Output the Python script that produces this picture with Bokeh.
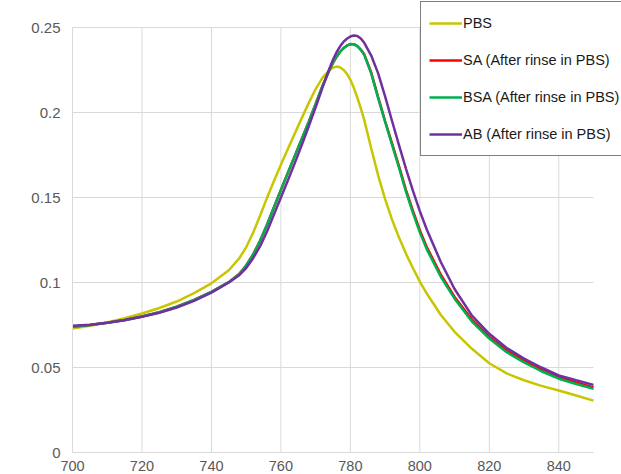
from bokeh.plotting import figure
from bokeh.models import Range1d, FixedTicker, NumeralTickFormatter, Legend, LegendItem
from bokeh.embed import file_html
from bokeh.resources import INLINE

wavelength = [700, 705, 710, 715, 720, 725, 730, 735, 740, 745, 748,
              750, 752, 754, 756, 758, 760, 762, 764, 766, 768, 770, 772,
              774, 775, 776, 777, 778, 779, 780, 781, 782, 783, 784,
              786, 788, 790, 792, 794, 796, 798, 800, 802,
              806, 810, 815, 820, 825, 830, 835, 840, 845, 850]

pbs = [0.0730, 0.0745, 0.0765, 0.0790, 0.0818, 0.0850, 0.0888, 0.0937, 0.0995, 0.1072, 0.1142,
       0.1207, 0.1292, 0.1393, 0.1498, 0.1597, 0.1692, 0.1785, 0.1877, 0.1967, 0.2055, 0.2138, 0.2205,
       0.2250, 0.2264, 0.2270, 0.2266, 0.2252, 0.2228, 0.2192, 0.2145, 0.2088, 0.2025, 0.1955,
       0.1790, 0.1630, 0.1490, 0.1370, 0.1265, 0.1170, 0.1085, 0.1005, 0.0935,
       0.0810, 0.0710, 0.0610, 0.0525, 0.0465, 0.0425, 0.0392, 0.0365, 0.0335, 0.0305]

sa = [0.0740, 0.0750, 0.0763, 0.0780, 0.0800, 0.0825, 0.0858, 0.0898, 0.0945, 0.1002, 0.1050,
      0.1100, 0.1165, 0.1245, 0.1340, 0.1443, 0.1545, 0.1645, 0.1745, 0.1845, 0.1945, 0.2050, 0.2158,
      0.2252, 0.2292, 0.2327, 0.2356, 0.2378, 0.2393, 0.2402, 0.2402, 0.2391, 0.2370, 0.2342,
      0.2235, 0.2090, 0.1950, 0.1818, 0.1685, 0.1545, 0.1422, 0.1308, 0.1208,
      0.1048, 0.0915, 0.0782, 0.0680, 0.0600, 0.0540, 0.0488, 0.0443, 0.0412, 0.0383]

bsa = [0.0740, 0.0750, 0.0763, 0.0780, 0.0800, 0.0825, 0.0858, 0.0898, 0.0945, 0.1002, 0.1050,
       0.1100, 0.1165, 0.1245, 0.1340, 0.1443, 0.1545, 0.1645, 0.1745, 0.1845, 0.1945, 0.2050, 0.2158,
       0.2252, 0.2292, 0.2327, 0.2356, 0.2378, 0.2393, 0.2403, 0.2402, 0.2390, 0.2368, 0.2340,
       0.2230, 0.2085, 0.1945, 0.1810, 0.1675, 0.1535, 0.1410, 0.1295, 0.1195,
       0.1035, 0.0905, 0.0770, 0.0670, 0.0590, 0.0530, 0.0478, 0.0434, 0.0403, 0.0375]

ab = [0.0745, 0.0752, 0.0763, 0.0778, 0.0798, 0.0822, 0.0853, 0.0892, 0.0940, 0.1000, 0.1043,
      0.1085, 0.1143, 0.1212, 0.1300, 0.1400, 0.1500, 0.1600, 0.1702, 0.1808, 0.1918, 0.2030, 0.2148,
      0.2260, 0.2310, 0.2353, 0.2388, 0.2415, 0.2434, 0.2447, 0.2453, 0.2450, 0.2435, 0.2410,
      0.2335, 0.2230, 0.2095, 0.1950, 0.1808, 0.1670, 0.1540, 0.1420, 0.1312,
      0.1122, 0.0962, 0.0805, 0.0698, 0.0615, 0.0553, 0.0500, 0.0453, 0.0425, 0.0398]

series_names = ["PBS", "SA (After rinse in PBS)", "BSA (After rinse in PBS)", "AB (After rinse in PBS)"]
series_colors = ["#C8C600", "#FF0000", "#00B050", "#7030A0"]
series_values = [pbs, sa, bsa, ab]

x_ticks = [700, 720, 740, 760, 780, 800, 820, 840]
y_ticks = [0, 0.05, 0.1, 0.15, 0.2, 0.25]
x_min, x_max = 700, 850
y_min, y_max = 0, 0.25

W, H = 621, 474
left, bottom, top_gap = 72, 22, 27
px_per_x = (593 - left) / (x_max - x_min)
px_per_y = (H - bottom - top_gap) / (y_max - y_min)
x_view_end = x_min + (W - left) / px_per_x
y_view_end = y_min + (H - bottom) / px_per_y

p = figure(width=W, height=H, output_backend="svg", toolbar_location=None,
           x_range=Range1d(x_min, x_view_end), y_range=Range1d(y_min, y_view_end),
           min_border_left=left, min_border_right=0, min_border_top=0, min_border_bottom=bottom)
p.outline_line_color = None
p.background_fill_color = "white"
p.border_fill_color = "white"
p.xgrid.visible = False
p.ygrid.visible = False

grid_color = "#d9d9d9"
hy = y_ticks[1:]
p.segment(x0=[x_min] * len(hy), y0=hy, x1=[x_max] * len(hy), y1=hy,
          line_color=grid_color, line_width=1)
vx = x_ticks[1:]
p.segment(x0=vx, y0=[y_min] * len(vx), x1=vx, y1=[y_max] * len(vx),
          line_color=grid_color, line_width=1)

renderers = []
for name, col, vals in zip(series_names, series_colors, series_values):
    r = p.line(wavelength, vals, line_color=col, line_width=2.5)
    renderers.append((name, r))

font = "Liberation Sans"
for ax in (p.xaxis[0], p.yaxis[0]):
    ax.axis_line_color = grid_color
    ax.axis_line_width = 1
    ax.major_tick_line_color = None
    ax.minor_tick_line_color = None
    ax.major_tick_out = 0
    ax.major_tick_in = 0
    ax.minor_tick_out = 0
    ax.minor_tick_in = 0
    ax.major_label_text_font = font
    ax.major_label_text_color = "#595959"

p.xaxis[0].major_label_text_font_size = "14.5px"
p.yaxis[0].major_label_text_font_size = "15px"
p.xaxis[0].ticker = FixedTicker(ticks=x_ticks)
p.yaxis[0].ticker = FixedTicker(ticks=y_ticks)
p.xaxis[0].bounds = (x_min, x_max)
p.yaxis[0].bounds = (y_min, y_max)
p.yaxis[0].formatter = NumeralTickFormatter(format="0.[00]")
p.xaxis[0].major_label_standoff = 8
p.yaxis[0].major_label_standoff = 12

legend = Legend(items=[LegendItem(label=n, renderers=[r]) for n, r in renderers],
                location=(348, 296))
legend.border_line_color = "black"
legend.border_line_width = 1
legend.background_fill_color = "white"
legend.background_fill_alpha = 1
legend.label_text_font = font
legend.label_text_font_size = "14.5px"
legend.label_text_color = "#1a1a1a"
legend.glyph_width = 33
legend.glyph_height = 26
legend.label_height = 26
legend.label_width = 175
legend.spacing = 11
legend.padding = 8
legend.margin = 0
legend.label_standoff = 1
p.add_layout(legend, "center")

open("out.html", "w").write(file_html(p, INLINE))
